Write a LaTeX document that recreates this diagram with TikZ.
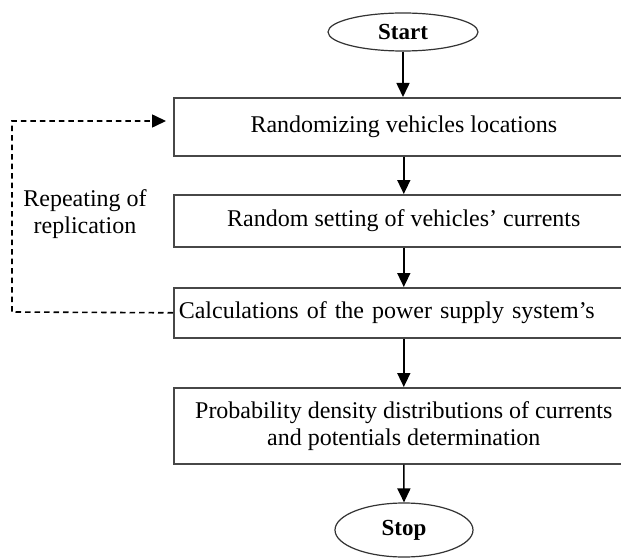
\documentclass[tikz,border=0pt]{standalone}
\usepackage{fontspec}
\setmainfont{Liberation Serif}
\usetikzlibrary{arrows.meta,shapes.geometric}
\begin{document}
\begin{tikzpicture}[x=1pt,y=-1pt,
  font=\fontsize{24}{27}\selectfont,
  procbox/.style={draw=black!72,line width=1.6pt,rectangle,minimum width=460pt,inner sep=0pt,anchor=north west,align=center},
  term/.style={draw=black!80,line width=1.2pt,ellipse,inner sep=0pt,font=\fontsize{23}{27}\selectfont\bfseries},
  flow/.style={-{Triangle[length=14pt,width=13pt]},line width=1.6pt,black},
  loop/.style={-{Triangle[length=14pt,width=13pt]},line width=1.6pt,black,dash pattern=on 5.5pt off 4pt}
]
\clip (0,0) rectangle (621,559);
\fill[white] (0,0) rectangle (621,559);
\node[term,minimum width=150pt,minimum height=38pt] (start) at (403,32) {Start};
\node[procbox,minimum height=58pt] (b1) at (173,97) {Randomizing vehicles locations};
\node[procbox,minimum height=52pt] (b2) at (173,194) {Random setting of vehicles’ currents};
\node[procbox,minimum height=50pt,text width=450pt,align=left,inner xsep=5pt,minimum width=460pt] (b3) at (173,287) {Calculations of the power supply system’s};
\node[procbox,minimum height=76pt] (b4) at (173,387) {Probability density distributions of currents\\and potentials determination};
\node[term,minimum width=138pt,minimum height=54pt] (stop) at (404,530) {Stop};
\node[align=center] (rep) at (85,214) {Repeating of\\replication};
\coordinate (c1) at (12,312);
\coordinate (c2) at (12,121);
\coordinate (c3) at (166,121);
\draw[flow] (start.south) -- (start.south |- b1.north);
\draw[flow] (b1.south) -- (b2.north);
\draw[flow] (b2.south) -- (b3.north);
\draw[flow] (b3.south) -- (b4.north);
\draw[flow] (b4.south) -- (stop.north);
\draw[loop] (b3.west) -- (c1) -- (c2) -- (c3);
\end{tikzpicture}
\end{document}
